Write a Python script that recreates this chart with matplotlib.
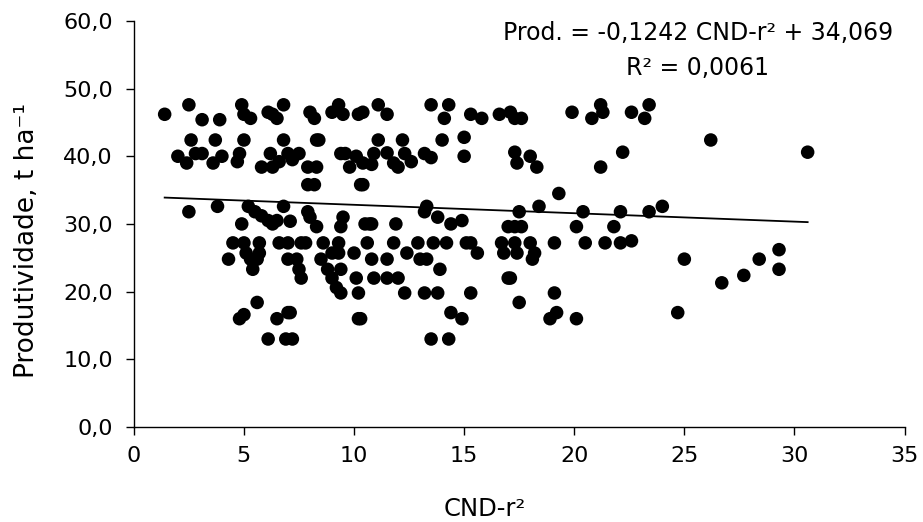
import matplotlib
matplotlib.use("Agg")
import matplotlib.pyplot as plt
import numpy as np
from matplotlib.ticker import FuncFormatter

plt.rcParams['font.family'] = ['DejaVu Sans']

cnd = [
    1.4, 2.5, 4.9, 5.0, 5.3, 6.1, 6.3, 6.5, 6.8, 8.0, 8.2, 9.0, 9.3, 9.5, 10.2, 10.4,
    11.1, 11.5, 13.5, 14.3, 14.1, 15.3, 15.8, 16.6, 17.1, 17.3, 17.6, 19.9, 20.8, 21.2,
    21.3, 22.6, 23.2, 23.4, 3.1, 3.9,
    2.6, 3.7, 5.0, 6.8, 8.3, 8.4, 11.1, 12.2, 14.0, 15.0, 26.2,
    2.0, 2.4, 2.8, 3.1, 3.6, 4.0, 4.7, 4.8, 5.8, 6.2, 6.3, 6.6, 7.0, 7.5, 7.2, 7.9, 8.3,
    9.4, 9.6, 9.8, 10.1, 10.4, 10.8, 10.9, 11.5, 11.8, 12.0, 12.3, 12.6, 13.2, 13.5,
    15.0, 17.3, 17.4, 18.0, 18.3, 21.2, 22.2, 30.6,
    7.9, 8.2, 10.3, 10.4,
    2.5, 3.8, 5.2, 5.5, 5.8, 6.8, 7.9, 8.0, 13.2, 13.3, 13.8, 18.4, 19.3, 20.4, 22.1,
    23.4, 24.0, 17.5,
    4.9, 6.1, 6.3, 6.5, 7.1, 8.3, 9.4, 9.5, 10.5, 10.7, 10.8, 11.9, 14.4, 14.9, 17.0,
    17.3, 17.6, 20.1, 21.8,
    4.5, 5.0, 5.7, 6.6, 7.0, 7.6, 7.8, 8.6, 9.3, 10.6, 11.8, 12.9, 13.6, 14.2, 15.1,
    15.3, 16.7, 17.3, 18.0, 19.1, 20.5, 21.4, 22.1, 22.6,
    4.3, 5.1, 5.3, 5.6, 5.7, 7.0, 7.4, 8.5, 9.0, 9.3, 10.0, 10.8, 11.5, 12.4, 13.0,
    13.3, 15.6, 16.8, 17.4, 18.2, 18.1, 25.0, 28.4, 29.3,
    5.4, 7.5, 7.6, 8.8, 9.0, 9.4, 10.1, 10.9, 11.5, 12.0, 13.9, 17.0, 17.1, 26.7, 27.7, 29.3,
    9.2, 9.4, 10.2, 12.3, 13.2, 13.8, 15.3, 19.1,
    4.8, 5.0, 5.6, 6.5, 7.0, 7.1, 10.2, 10.3, 14.4, 14.9, 17.5, 18.9, 19.2, 20.1, 24.7,
    6.1, 6.9, 7.2, 13.5, 14.3,
]
prod = [
    46.2, 47.6, 47.6, 46.2, 45.6, 46.5, 46.2, 45.6, 47.6, 46.5, 45.6, 46.5, 47.6, 46.2, 46.2, 46.5,
    47.6, 46.2, 47.6, 47.6, 45.6, 46.2, 45.6, 46.2, 46.5, 45.6, 45.6, 46.5, 45.6, 47.6,
    46.5, 46.5, 45.6, 47.6, 45.4, 45.4,
    42.4, 42.4, 42.4, 42.4, 42.4, 42.4, 42.4, 42.4, 42.4, 42.8, 42.4,
    40.0, 39.0, 40.4, 40.4, 39.0, 40.0, 39.2, 40.4, 38.4, 40.4, 38.4, 39.2, 40.4, 40.4, 39.5, 38.4, 38.4,
    40.4, 40.4, 38.4, 40.0, 39.0, 38.8, 40.4, 40.5, 39.0, 38.4, 40.4, 39.2, 40.4, 39.8,
    40.0, 40.6, 39.0, 40.0, 38.4, 38.4, 40.6, 40.6,
    35.8, 35.8, 35.8, 35.8,
    31.8, 32.6, 32.6, 31.8, 31.2, 32.6, 31.8, 31.0, 31.8, 32.6, 31.0, 32.6, 34.5, 31.8, 31.8,
    31.8, 32.6, 31.8,
    30.0, 30.5, 30.0, 30.5, 30.4, 29.6, 29.6, 31.0, 30.0, 30.0, 30.0, 30.0, 30.0, 30.5, 29.6,
    29.6, 29.6, 29.6, 29.6,
    27.2, 27.2, 27.2, 27.2, 27.2, 27.2, 27.2, 27.2, 27.2, 27.2, 27.2, 27.2, 27.2, 27.2, 27.2,
    27.2, 27.2, 27.2, 27.2, 27.2, 27.2, 27.2, 27.2, 27.5,
    24.8, 25.7, 24.8, 24.8, 25.7, 24.8, 24.8, 24.8, 25.7, 25.7, 25.7, 24.8, 24.8, 25.7, 24.8,
    24.8, 25.7, 25.7, 25.7, 25.7, 24.8, 24.8, 24.8, 26.2,
    23.3, 23.3, 22.0, 23.3, 22.0, 23.3, 22.0, 22.0, 22.0, 22.0, 23.3, 22.0, 22.0, 21.3, 22.4, 23.3,
    20.6, 19.8, 19.8, 19.8, 19.8, 19.8, 19.8, 19.8,
    16.0, 16.6, 18.4, 16.0, 16.9, 16.9, 16.0, 16.0, 16.9, 16.0, 18.4, 16.0, 16.9, 16.0, 16.9,
    13.0, 13.0, 13.0, 13.0, 13.0,
]

slope = -0.1242
intercept = 34.069
x_ticks = [0, 5, 10, 15, 20, 25, 30, 35]
y_ticks = [0, 10, 20, 30, 40, 50, 60]

FS = 16

fig = plt.figure(figsize=(9.23, 5.22), dpi=100)
ax = fig.add_axes([0.145, 0.182, 0.835, 0.778])

ax.scatter(cnd, prod, s=95, color='black', edgecolors='none', zorder=3)
xl = np.array([min(cnd), max(cnd)])
ax.plot(xl, slope * xl + intercept, color='black', lw=1.3, zorder=2)

ax.set_xlim(0, 35)
ax.set_ylim(0, 60)
ax.set_xticks(x_ticks)
ax.set_yticks(y_ticks)
ax.yaxis.set_major_formatter(FuncFormatter(lambda v, p: f"{v:.1f}".replace('.', ',')))
for s in ['top', 'right']:
    ax.spines[s].set_visible(False)
for s in ['left', 'bottom']:
    ax.spines[s].set_linewidth(1.0)
ax.tick_params(direction='out', length=6, width=1.0, labelsize=FS, colors='black')
ax.tick_params(axis='x', pad=8)
ax.tick_params(axis='y', pad=9)

ax.set_xlabel('CND-r²', fontsize=17.5)
ax.xaxis.set_label_coords(0.455, -0.172)
ax.set_ylabel('Produtividade, t ha⁻¹', fontsize=19)
ax.yaxis.set_label_coords(-0.122, 0.458)

fig.text(0.756, 1 - 40 / 522, 'Prod. = -0,1242 CND-r² + 34,069',
         ha='center', va='baseline', fontsize=17)
fig.text(0.756, 1 - 75 / 522, 'R² = 0,0061',
         ha='center', va='baseline', fontsize=17)

fig.savefig('out.png', dpi=100)
